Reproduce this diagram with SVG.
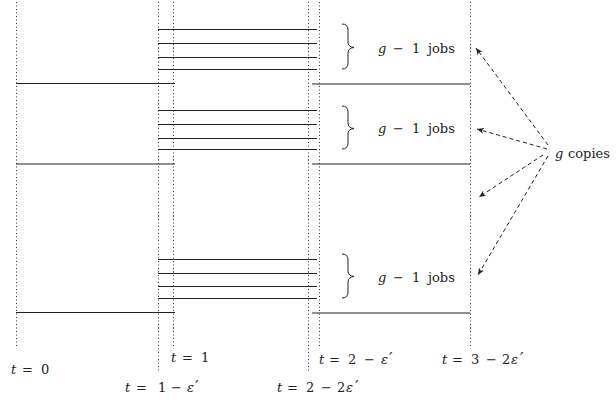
<svg xmlns="http://www.w3.org/2000/svg" width="616" height="400" viewBox="0 0 616 400">
<style>
.vd{stroke:#333;stroke-width:1;stroke-dasharray:1 2.5;fill:none}
.job{stroke:#222;stroke-width:1.2;fill:none}
.br{stroke:#222;stroke-width:1;fill:none}
.ar{stroke:#222;stroke-width:1;stroke-dasharray:4 3;fill:none}
text{font-family:"DejaVu Serif","Liberation Serif",serif;font-size:13px;fill:#222}
.i{font-style:italic}
.p{font-size:16px}
</style>
<defs>
<marker id="ah" markerUnits="userSpaceOnUse" markerWidth="8" markerHeight="6" refX="7" refY="3" orient="auto">
<path d="M0,0 L7,3 L0,6 L2,3 z" fill="#222"/>
</marker>
</defs>
<g id="timelines">
<line class="vd" x1="16.5" y1="2" x2="16.5" y2="347"/>
<line class="vd" x1="158.5" y1="2" x2="158.5" y2="372"/>
<line class="vd" x1="173.5" y1="2" x2="173.5" y2="347"/>
<line class="vd" x1="308.5" y1="2" x2="308.5" y2="372"/>
<line class="vd" x1="319.5" y1="2" x2="319.5" y2="347"/>
<line class="vd" x1="470.5" y1="2" x2="470.5" y2="347"/>
</g>
<g id="copy1">
<line class="job" x1="158" y1="29.5" x2="317" y2="29.5"/>
<line class="job" x1="158" y1="43.5" x2="317" y2="43.5"/>
<line class="job" x1="158" y1="57.5" x2="317" y2="57.5"/>
<line class="job" x1="158" y1="69.5" x2="317" y2="69.5"/>
<line class="job" x1="16" y1="83.5" x2="175" y2="83.5"/>
<line class="job" x1="312" y1="84" x2="470" y2="84"/>
<path class="br" d="M342,24 Q348,24 348,30 L348,42 Q348,47 354,47.5 Q348,48 348,53 L348,63 Q348,69 342,69"/>
<text x="378" y="53"><tspan class="i">g</tspan><tspan x="393">−</tspan><tspan x="412">1</tspan><tspan x="428">jobs</tspan></text>
</g>
<g id="copy2">
<line class="job" x1="158" y1="110.5" x2="317" y2="110.5"/>
<line class="job" x1="158" y1="124.5" x2="317" y2="124.5"/>
<line class="job" x1="158" y1="138.5" x2="317" y2="138.5"/>
<line class="job" x1="158" y1="149.5" x2="317" y2="149.5"/>
<line class="job" x1="16" y1="164" x2="175" y2="164"/>
<line class="job" x1="312" y1="164" x2="470" y2="164"/>
<path class="br" d="M342,106 Q348,106 348,112 L348,123 Q348,128 354,128.5 Q348,129 348,134 L348,143 Q348,149 342,149"/>
<text x="378" y="133"><tspan class="i">g</tspan><tspan x="393">−</tspan><tspan x="412">1</tspan><tspan x="428">jobs</tspan></text>
</g>
<g id="copy3">
<line class="job" x1="158" y1="259.5" x2="317" y2="259.5"/>
<line class="job" x1="158" y1="273.5" x2="317" y2="273.5"/>
<line class="job" x1="158" y1="286.5" x2="317" y2="286.5"/>
<line class="job" x1="158" y1="298.5" x2="317" y2="298.5"/>
<line class="job" x1="16" y1="312.5" x2="175" y2="312.5"/>
<line class="job" x1="312" y1="313" x2="470" y2="313"/>
<path class="br" d="M342,254 Q348,254 348,260 L348,271 Q348,276 354,276.5 Q348,277 348,282 L348,292 Q348,298 342,298"/>
<text x="378" y="282"><tspan class="i">g</tspan><tspan x="393">−</tspan><tspan x="412">1</tspan><tspan x="428">jobs</tspan></text>
</g>
<g id="gcopies">
<text x="555" y="158"><tspan class="i">g</tspan><tspan x="568">copies</tspan></text>
</g>
<g id="connectors">
<line class="ar" x1="548" y1="145" x2="476" y2="48" marker-end="url(#ah)"/>
<line class="ar" x1="547" y1="149" x2="477" y2="129" marker-end="url(#ah)"/>
<line class="ar" x1="543" y1="155" x2="479" y2="197" marker-end="url(#ah)"/>
<line class="ar" x1="548" y1="156" x2="478" y2="275" marker-end="url(#ah)"/>
</g>
<g id="labels">
<text x="11" y="374"><tspan class="i">t</tspan><tspan x="22">=</tspan><tspan x="41">0</tspan></text>
<text x="171" y="362"><tspan class="i">t</tspan><tspan x="182">=</tspan><tspan x="201">1</tspan></text>
<text x="125" y="392"><tspan class="i">t</tspan><tspan x="136">=</tspan><tspan x="158">1</tspan><tspan x="171">−</tspan><tspan class="i" x="187">ε</tspan><tspan class="p" x="195">′</tspan></text>
<text x="319" y="364"><tspan class="i">t</tspan><tspan x="329">=</tspan><tspan x="348">2</tspan><tspan x="364">−</tspan><tspan class="i" x="381">ε</tspan><tspan class="p" x="389">′</tspan></text>
<text x="277" y="392"><tspan class="i">t</tspan><tspan x="287">=</tspan><tspan x="306">2</tspan><tspan x="321">−</tspan><tspan x="337">2</tspan><tspan class="i" x="346">ε</tspan><tspan class="p" x="355">′</tspan></text>
<text x="442" y="364"><tspan class="i">t</tspan><tspan x="452">=</tspan><tspan x="471">3</tspan><tspan x="486">−</tspan><tspan x="502">2</tspan><tspan class="i" x="511">ε</tspan><tspan class="p" x="520">′</tspan></text>
</g>
</svg>
